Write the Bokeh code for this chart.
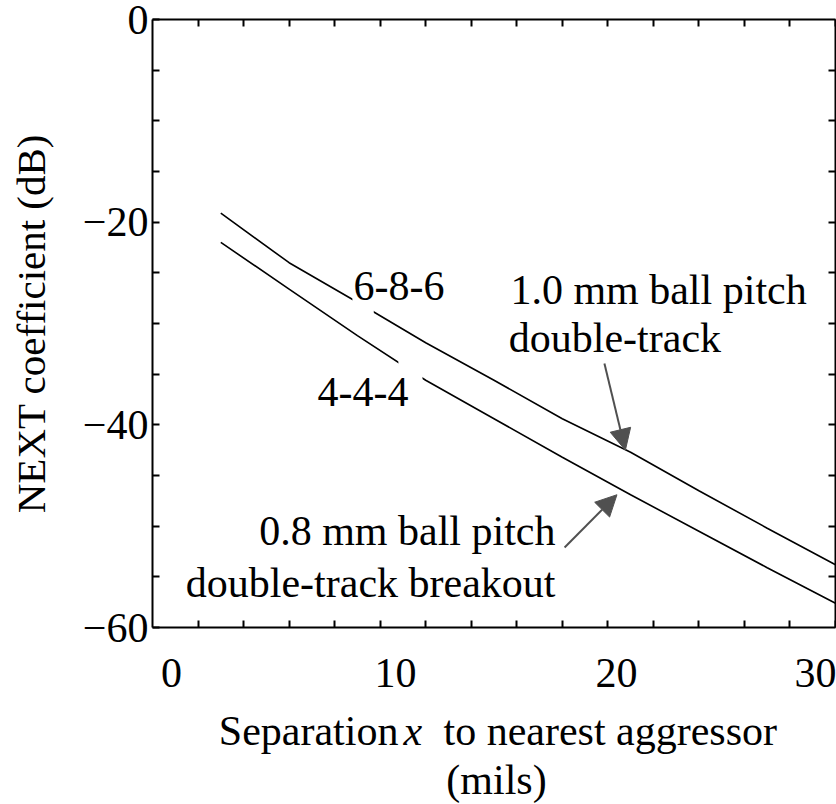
from bokeh.plotting import figure
from bokeh.layouts import column
from bokeh.core.properties import value
from bokeh.models import (Range1d, FixedTicker, LinearAxis, CustomJSTickFormatter,
                          Label, Arrow, NormalHead, BoxAnnotation)
from bokeh.embed import file_html
from bokeh.resources import INLINE

# ---------------- data ----------------
sep_mils = [3, 6, 9, 12, 15, 18, 21, 24, 27, 30]
next_db_1p0mm = [-19.1, -24.0, -27.9, -31.9, -35.6, -39.4, -42.7, -46.5, -50.2, -53.8]
next_db_0p8mm = [-22.0, -26.6, -31.2, -35.6, -39.4, -43.2, -46.9, -50.5, -54.1, -57.6]

x_tick_labels = ["0", "10", "20", "30"]
x_minor_ticks = [2, 4, 6, 8, 10, 12, 14, 16, 18, 20, 22, 24, 26, 28, 30]
y_tick_values = [-60, -40, -20, 0]
y_minor_ticks = [-55, -50, -45, -35, -30, -25, -15, -10, -5]

x_title_parts = ["Separation", "x", "to nearest aggressor"]
x_title_units = "(mils)"

# ---------------- layout / style ----------------
FONT = "Liberation Serif"
FS = "42px"
ARROW_GREY = "#505050"
# the reference places its x tick labels by hand, slightly off the tick values
x_tick_label_pos = [0.83, 10.67, 20.38, 29.16]

x_range = Range1d(0, 30)

p = figure(width=836, height=705,
           x_range=x_range, y_range=Range1d(-60, 0),
           output_backend="svg", toolbar_location=None,
           min_border_left=152, min_border_right=1,
           min_border_top=19, min_border_bottom=78,
           background_fill_color="white", border_fill_color="white")
p.grid.visible = False
p.outline_line_color = None

# bottom axis
xa = p.xaxis[0]
xa.ticker = FixedTicker(ticks=x_tick_label_pos, minor_ticks=x_minor_ticks)
xa.formatter = CustomJSTickFormatter(
    args=dict(pos=x_tick_label_pos, labels=x_tick_labels),
    code="""
    let best = 0, d = Infinity;
    for (let i = 0; i < pos.length; i++) {
        const e = Math.abs(pos[i] - tick);
        if (e < d) { d = e; best = i; }
    }
    return labels[best];
""")
xa.major_tick_in = 0
xa.major_tick_out = 0
xa.minor_tick_in = 7
xa.minor_tick_out = 0
xa.axis_line_width = 2
xa.axis_line_color = "black"
xa.minor_tick_line_width = 2
xa.minor_tick_line_color = "black"
xa.major_label_text_font = FONT
xa.major_label_text_font_size = FS
xa.major_label_text_color = "black"
xa.major_label_standoff = 31

# left axis
ya = p.yaxis[0]
ya.ticker = FixedTicker(ticks=y_tick_values, minor_ticks=y_minor_ticks)
ya.formatter = CustomJSTickFormatter(
    code="return tick < 0 ? '\u2212' + String(Math.abs(tick)) : String(tick);")
ya.major_tick_in = 7
ya.major_tick_out = 0
ya.minor_tick_in = 7
ya.minor_tick_out = 0
ya.axis_line_width = 2
ya.axis_line_color = "black"
ya.major_tick_line_width = 2
ya.major_tick_line_color = "black"
ya.minor_tick_line_width = 2
ya.minor_tick_line_color = "black"
ya.major_label_text_font = FONT
ya.major_label_text_font_size = FS
ya.major_label_text_color = "black"
ya.major_label_standoff = 4
ya.axis_label = "NEXT coefficient (dB)"
ya.axis_label_text_font = FONT
ya.axis_label_text_font_size = "41px"
ya.axis_label_text_font_style = "normal"
ya.axis_label_text_color = "black"
ya.axis_label_standoff = 26

# top and right frame axes (ticks only)
top = LinearAxis(ticker=FixedTicker(ticks=[], minor_ticks=x_minor_ticks),
                 major_label_text_font_size="0px", major_label_standoff=0,
                 major_tick_in=0, major_tick_out=0, minor_tick_in=7, minor_tick_out=0,
                 axis_line_width=2, axis_line_color="black",
                 minor_tick_line_width=2, minor_tick_line_color="black")
p.add_layout(top, "above")
right = LinearAxis(ticker=FixedTicker(ticks=[], minor_ticks=y_minor_ticks + [-40, -20]),
                   major_label_text_font_size="0px", major_label_standoff=0,
                   major_tick_in=0, major_tick_out=0, minor_tick_in=7, minor_tick_out=0,
                   axis_line_width=2, axis_line_color="black",
                   minor_tick_line_width=2, minor_tick_line_color="black")
p.add_layout(right, "right")

# curves
p.line(sep_mils, next_db_1p0mm, line_color="black", line_width=1.6)
p.line(sep_mils, next_db_0p8mm, line_color="black", line_width=1.6)

# white masks producing the breaks in the curves near the labels
p.add_layout(BoxAnnotation(left=8.78, right=9.72, top=-26.7, bottom=-29.7,
                           fill_color="white", fill_alpha=1, line_color=None))
p.add_layout(BoxAnnotation(left=10.8, right=11.86, top=-33.2, bottom=-36.2,
                           fill_color="white", fill_alpha=1, line_color=None))

def lab(x, y, text, align="left"):
    p.add_layout(Label(x=x, y=y, text=text,
                       text_align=align, text_baseline="alphabetic",
                       text_font=FONT, text_font_size=FS,
                       text_color="black"))

lab(8.83, -26.3, "6-8-6")
lab(7.25, -36.8, "4-4-4")
lab(15.72, -26.7, "1.0 mm ball pitch")
lab(15.65, -31.4, "double-track")
lab(17.7, -50.5, "0.8 mm ball pitch", align="right")
lab(17.7, -55.6, "double-track breakout", align="right")

# arrows
p.add_layout(Arrow(end=NormalHead(size=21, fill_color=ARROW_GREY, line_color=ARROW_GREY),
                   x_start=19.85, y_start=-33.95, x_end=20.77, y_end=-42.5,
                   line_color=ARROW_GREY, line_width=2))
p.add_layout(Arrow(end=NormalHead(size=21, fill_color=ARROW_GREY, line_color=ARROW_GREY),
                   x_start=18.1, y_start=-52.1, x_end=20.4, y_end=-46.9,
                   line_color=ARROW_GREY, line_width=2))

# ---------------- x-axis title strip (shares the x scale) ----------------
t = figure(width=836, height=99, x_range=x_range, y_range=Range1d(0, 99),
           output_backend="svg", toolbar_location=None,
           min_border_left=152, min_border_right=1,
           min_border_top=0, min_border_bottom=0,
           background_fill_color="white", border_fill_color="white")
t.axis.visible = False
t.grid.visible = False
t.outline_line_color = None

common = dict(text_font=value(FONT), text_font_size=value(FS), text_color="black",
              text_baseline="alphabetic")
t.text(x=[10.80], y=[74], text=[x_title_parts[0]], text_align="right", **common)
t.text(x=[11.02], y=[74], text=[x_title_parts[1]], text_align="left",
       text_font_style="italic", **common)
t.text(x=[12.78], y=[74], text=[x_title_parts[2]], text_align="left", **common)
t.text(x=[15.11], y=[25], text=[x_title_units], text_align="center", **common)

layout = column(p, t, spacing=0)
open("out.html", "w").write(file_html(layout, INLINE))
